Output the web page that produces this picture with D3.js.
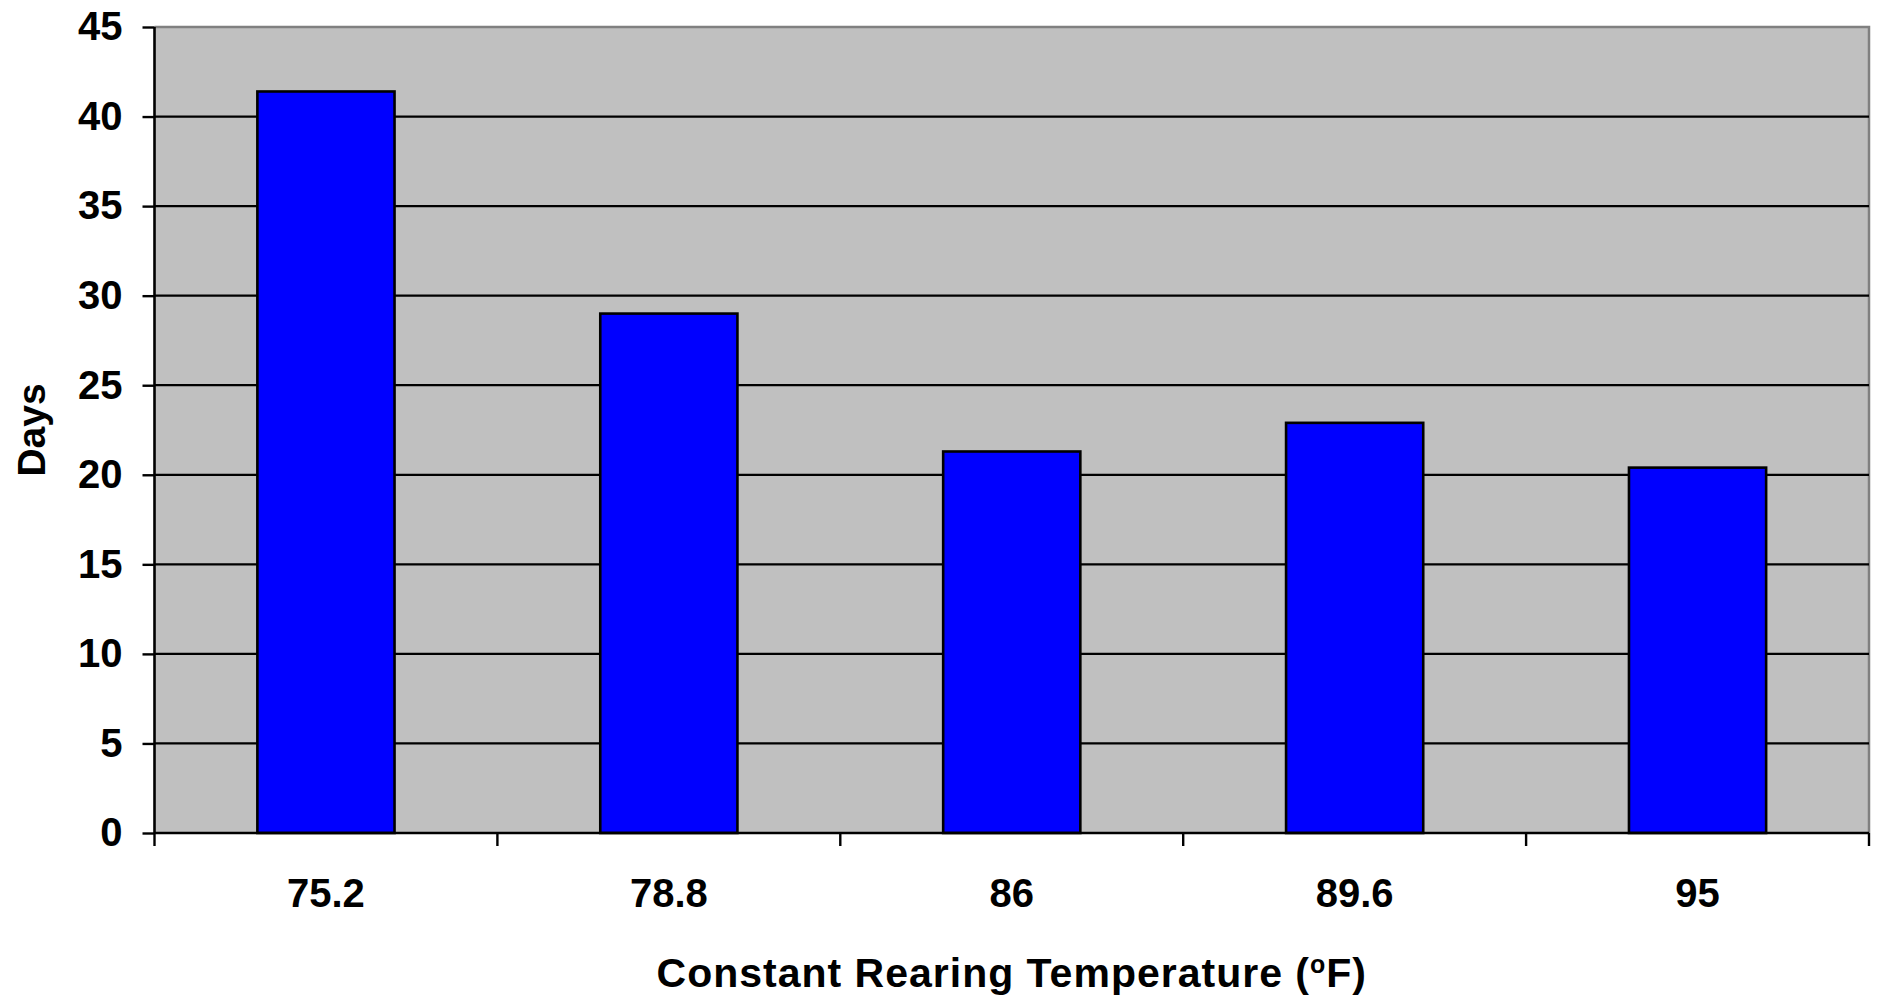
<!DOCTYPE html>
<html>
<head>
<meta charset="utf-8">
<script src="https://cdn.jsdelivr.net/npm/d3@7"></script>
<style>
  html, body { margin: 0; padding: 0; background: #ffffff; }
  svg { display: block; }
  text { font-family: "Liberation Sans", Arial, sans-serif; font-weight: bold; fill: #000; }
</style>
</head>
<body>
<script>
// Development time (days) at each constant rearing temperature
const temperatures = ["75.2", "78.8", "86", "89.6", "95"];
const days = [41.4, 29.0, 21.3, 22.9, 20.4];
const yTicks = [0, 5, 10, 15, 20, 25, 30, 35, 40, 45];

const W = 1879, H = 1000;
const margin = { left: 154.5, right: 10, top: 27, bottom: 167 };
const plotW = W - margin.left - margin.right;
const plotH = H - margin.top - margin.bottom;

const svg = d3.select("body").append("svg")
  .attr("width", W).attr("height", H);

const x = d3.scaleBand()
  .domain(temperatures)
  .range([0, plotW])
  .paddingInner(0.6)
  .paddingOuter(0.3);

const y = d3.scaleLinear()
  .domain([0, 45])
  .range([plotH, 0]);

const g = svg.append("g")
  .attr("transform", `translate(${margin.left},${margin.top})`);

// Plot area background with grey frame on top and right
g.append("rect")
  .attr("x", 0).attr("y", 0)
  .attr("width", plotW).attr("height", plotH)
  .attr("fill", "#c0c0c0");

g.append("path")
  .attr("d", `M0,${y(45)}H${plotW}V${plotH}`)
  .attr("fill", "none")
  .attr("stroke", "#808080")
  .attr("stroke-width", 2.5);

// Horizontal gridlines
g.append("g")
  .selectAll("line")
  .data(yTicks.filter(t => t > 0 && t < 45))
  .join("line")
  .attr("x1", 0).attr("x2", plotW)
  .attr("y1", d => y(d)).attr("y2", d => y(d))
  .attr("stroke", "#000")
  .attr("stroke-width", 2.2);

// Bars
g.append("g")
  .selectAll("rect")
  .data(temperatures)
  .join("rect")
  .attr("x", d => x(d))
  .attr("y", (d, i) => y(days[i]))
  .attr("width", x.bandwidth())
  .attr("height", (d, i) => y(0) - y(days[i]))
  .attr("fill", "#0000ff")
  .attr("stroke", "#000")
  .attr("stroke-width", 2.6);

// Y axis
const yAxis = d3.axisLeft(y)
  .tickValues(yTicks)
  .tickSize(12)
  .tickPadding(20)
  .tickFormat(d3.format("d"));

const yG = g.append("g").call(yAxis);
yG.select(".domain").attr("stroke", "#000").attr("stroke-width", 2.6)
  .attr("d", `M0,${y(45)}V${y(0)}`);
yG.selectAll(".tick line").attr("stroke", "#000").attr("stroke-width", 2.4);
yG.selectAll(".tick text")
  .attr("font-size", 40)
  .attr("font-family", "Liberation Sans, Arial, sans-serif")
  .attr("font-weight", "bold")
  .attr("fill", "#000");

// X axis: category labels centred on bars, ticks at band boundaries
const step = x.step();
const boundaries = d3.range(temperatures.length + 1).map(i => i * step);

const xG = g.append("g").attr("transform", `translate(0,${plotH})`);
xG.append("line")
  .attr("x1", 0).attr("x2", plotW)
  .attr("y1", 0).attr("y2", 0)
  .attr("stroke", "#000")
  .attr("stroke-width", 2.6);
xG.selectAll("line.tick")
  .data(boundaries)
  .join("line")
  .attr("class", "tick")
  .attr("x1", d => d).attr("x2", d => d)
  .attr("y1", 0).attr("y2", 13)
  .attr("stroke", "#000")
  .attr("stroke-width", 2.4);
xG.selectAll("text")
  .data(temperatures)
  .join("text")
  .attr("x", d => x(d) + x.bandwidth() / 2)
  .attr("y", 74)
  .attr("text-anchor", "middle")
  .attr("font-size", 40)
  .text(d => d);

// Axis titles
const xTitle = svg.append("text")
  .attr("x", margin.left + plotW / 2)
  .attr("y", 987)
  .attr("text-anchor", "middle")
  .attr("font-size", 41)
  .attr("letter-spacing", 1);
xTitle.append("tspan").text("Constant Rearing Temperature (");
xTitle.append("tspan").attr("font-size", 25).attr("dy", -14).text("o");
xTitle.append("tspan").attr("dy", 14).text("F)");

svg.append("text")
  .attr("transform", `translate(45,${margin.top + plotH / 2}) rotate(-90)`)
  .attr("text-anchor", "middle")
  .attr("font-size", 39)
  .text("Days");
</script>
</body>
</html>
